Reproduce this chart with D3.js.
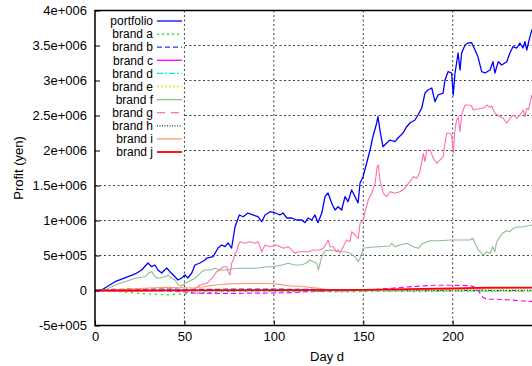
<!DOCTYPE html>
<html>
<head>
<meta charset="utf-8">
<script src="https://cdn.jsdelivr.net/npm/d3@7"></script>
<style>
  html, body { margin: 0; padding: 0; background: #fff; overflow: hidden; }
  svg { display: block; font-family: "Liberation Sans", Arial, sans-serif; }
</style>
</head>
<body>
<svg id="chart" width="532" height="366"></svg>
<script>
// Daily cumulative profit, [day, yen]
const portfolio = [[0,0],[3.7,7000],[11.2,126000],[18.5,197000],[22.4,236000],[26.1,293000],[29.6,393000],[31.7,340000],[33.5,364000],[35.2,293000],[37.3,250000],[40.1,321000],[41.9,269000],[44.7,197000],[46.4,150000],[48.5,179000],[50.3,221000],[52,179000],[54.1,250000],[55.9,364000],[58.7,393000],[61.5,436000],[62.5,464000],[66,483000],[68.8,607000],[70.8,650000],[72.7,626000],[74.4,679000],[76.4,607000],[78.3,911000],[80.7,1079000],[82.8,1054000],[85.5,1107000],[88.3,1079000],[91.1,1054000],[93.2,983000],[95.1,1079000],[97.9,1126000],[100.6,1111000],[103.4,1079000],[105.1,1107000],[107.2,1036000],[110,1036000],[112.8,1007000],[115.6,1007000],[117.4,969000],[119.1,1036000],[121.2,1007000],[123,1079000],[124.7,969000],[126.8,1107000],[128.6,1340000],[130.3,1393000],[132.3,1250000],[134.2,1150000],[135.9,1197000],[137.9,1150000],[139.8,1340000],[141.5,1269000],[143.5,1436000],[145.4,1340000],[147.1,1250000],[148.2,1536000],[149.9,1626000],[151.9,1821000],[153.8,2007000],[155.4,2197000],[157.5,2393000],[158.2,2483000],[159.3,2293000],[161,2054000],[163.1,2107000],[164.9,2150000],[167.7,2126000],[169.4,2179000],[172.2,2250000],[174.3,2340000],[176.1,2393000],[178.9,2436000],[180.6,2507000],[182.7,2607000],[184.5,2821000],[186.2,2864000],[188.3,2893000],[190.1,2697000],[191.8,2793000],[194.6,2821000],[195.7,3007000],[197.4,3126000],[199.4,3107000],[200.3,2793000],[201.3,3107000],[202.2,3250000],[203,3393000],[204.1,3150000],[205,3393000],[206.9,3507000],[208.6,3536000],[210.6,3540000],[212.5,3436000],[214.1,3340000],[216.2,3126000],[218.1,3107000],[220.9,3150000],[222.5,3269000],[223.6,3107000],[225.5,3269000],[227.4,3221000],[230.2,3269000],[232,3393000],[233.7,3483000],[235.8,3464000],[237.6,3536000],[239.3,3464000],[240.4,3554000],[241.4,3436000],[243.2,3626000],[244.3,3721000],[246,3650000]];

const brandA = [[0,0],[10,-10000],[20,-30000],[30,-50000],[40,-60000],[50,-50000],[60,-30000],[70,-20000],[80,-10000],[100,-10000],[120,-15000],[140,-20000],[160,-10000],[180,-15000],[200,-10000],[220,-10000],[246,-10000]];
const brandB = [[0,0],[10,15000],[20,20000],[40,20000],[60,15000],[80,20000],[100,20000],[120,15000],[140,10000],[160,5000],[180,5000],[200,5000],[220,0],[246,0]];
const brandC = [[0,0],[20,0],[40,-5000],[50,-20000],[55,-35000],[60,-40000],[80,-40000],[100,-35000],[110,-30000],[120,-15000],[140,-5000],[150,0],[160,20000],[170,40000],[180,60000],[190,75000],[200,75000],[210,70000],[213,40000],[215,-30000],[217,-100000],[219,-125000],[225,-125000],[235,-140000],[240,-150000],[246,-160000]];
const brandD = [[0,0],[30,-5000],[60,-5000],[100,-5000],[150,-5000],[200,-5000],[246,-5000]];
const brandE = [[0,0],[40,3000],[80,3000],[120,0],[160,3000],[200,3000],[246,0]];
const brandF = [[0,0],[5.6,7000],[11.2,79000],[16.8,126000],[22.4,174000],[28,197000],[29.8,246000],[31.7,269000],[33.5,197000],[35.4,174000],[39.1,197000],[41,221000],[42.9,174000],[44.7,150000],[46.6,79000],[48.5,64000],[50.3,103000],[52.2,126000],[54.1,150000],[55.9,174000],[57.8,221000],[59.7,269000],[61.5,293000],[64.3,293000],[67.1,317000],[69.9,293000],[72.7,293000],[75.5,303000],[79.2,317000],[84.8,317000],[90.4,317000],[96,340000],[99.7,340000],[104.4,364000],[108.1,389000],[111.8,364000],[115.6,364000],[118.4,397000],[120.2,436000],[122.1,411000],[124,389000],[124.9,293000],[126.8,483000],[128.6,569000],[132.3,579000],[136,554000],[139.8,554000],[142.6,531000],[145.4,483000],[147.2,411000],[148.2,460000],[150,603000],[153.8,617000],[159.3,626000],[164.9,636000],[165.9,674000],[167.7,626000],[170.5,650000],[174.3,674000],[178,626000],[180.8,603000],[182.7,664000],[187.3,711000],[192.9,711000],[198.5,721000],[204.1,721000],[209.7,721000],[211.2,746000],[212.5,674000],[214.3,579000],[216.2,531000],[217.5,507000],[219,554000],[220.9,531000],[222.4,626000],[223.6,554000],[224.6,697000],[226.4,769000],[228.3,826000],[230.2,854000],[232,840000],[233.9,889000],[235.8,903000],[239.5,911000],[244.3,936000],[246,936000]];
const brandG = [[0,0],[10,-10000],[20,-15000],[30,-10000],[40,0],[50,3000],[55,7000],[58.7,79000],[62.5,103000],[66.1,197000],[68,269000],[69.9,293000],[71.7,340000],[73.6,340000],[74.5,269000],[75.5,221000],[76.4,389000],[77.3,436000],[78.3,531000],[79.2,554000],[80.1,650000],[81.1,697000],[83.9,674000],[86.7,697000],[89.5,674000],[91.3,697000],[93.2,554000],[95.1,650000],[97.8,626000],[101.6,650000],[105.3,603000],[108.1,626000],[110,579000],[111.8,531000],[113.7,554000],[116.5,554000],[119.3,554000],[122.1,579000],[125.8,579000],[127.6,603000],[129.5,674000],[130.4,721000],[131.4,626000],[133.2,626000],[135.1,554000],[136,579000],[137,540000],[138.8,626000],[140.7,721000],[142.6,697000],[143.5,840000],[145.4,793000],[147.2,746000],[148.2,960000],[150,1007000],[151,1126000],[152.8,1293000],[154.7,1389000],[156.6,1531000],[157.8,1769000],[158.4,1793000],[159.3,1579000],[161.2,1389000],[163.1,1340000],[164.9,1411000],[167.7,1389000],[170.5,1411000],[173.3,1460000],[175.2,1531000],[176.1,1554000],[178,1626000],[179.9,1603000],[181.7,1697000],[183.6,1960000],[184.5,1840000],[185.5,2007000],[187.3,2007000],[189.2,1889000],[191.1,1817000],[192.9,1864000],[194.7,1911000],[195.7,2103000],[196.6,2246000],[198.5,2246000],[199.4,2221000],[200.3,1960000],[201.3,2293000],[202.2,2436000],[203.1,2483000],[204.1,2269000],[205,2507000],[206.9,2650000],[208.7,2650000],[210.6,2636000],[211.5,2579000],[213.4,2589000],[216.2,2603000],[218.1,2617000],[219,2650000],[220.9,2617000],[221.8,2636000],[223.6,2531000],[226.4,2483000],[228.3,2460000],[230.2,2389000],[232,2460000],[233.9,2507000],[235.8,2460000],[237.6,2507000],[239.5,2579000],[240.4,2483000],[241.4,2603000],[242.3,2579000],[243.2,2674000],[244.3,2793000],[246,2750000]];
const brandH = [[0,0],[50,5000],[100,5000],[150,0],[200,5000],[246,5000]];
const brandI = [[0,0],[10,5000],[20,20000],[30,35000],[40,45000],[50,40000],[55,35000],[60,50000],[65,70000],[70,85000],[75,95000],[85,100000],[95,100000],[100,95000],[105,80000],[110,60000],[115,60000],[120,45000],[125,30000],[130,15000],[140,5000],[160,5000],[180,10000],[200,15000],[220,30000],[246,35000]];
const brandJ = [[0,0],[50,2000],[100,5000],[150,10000],[175,20000],[200,30000],[220,40000],[246,40000]];

const seriesNames = ["portfolio","brand a","brand b","brand c","brand d","brand e","brand f","brand g","brand h","brand i","brand j"];
const seriesData = [portfolio, brandA, brandB, brandC, brandD, brandE, brandF, brandG, brandH, brandI, brandJ];

const yTicks = [-500000, 0, 500000, 1000000, 1500000, 2000000, 2500000, 3000000, 3500000, 4000000];
const yTickLabels = ["-5e+005","0","5e+005","1e+006","1.5e+006","2e+006","2.5e+006","3e+006","3.5e+006","4e+006"];
const xTicks = [0, 50, 100, 150, 200];

// line styles per series: colour, width, dash in the plot, dash in the key
const styles = [
  {c:"#0000ff", w:1.3, dash:null,        key:null},
  {c:"#00e000", w:1.2, dash:"2,4",       key:"2,3"},
  {c:"#3030ff", w:1.2, dash:"5,3",       key:"5,3"},
  {c:"#ff00ff", w:1.2, dash:"5,3",       key:null},
  {c:"#00e8e8", w:1.2, dash:"6,2,2,2",   key:"6,2,2,2"},
  {c:"#e8e800", w:1.2, dash:"2,2",       key:"2,2"},
  {c:"#8fbc8f", w:1.1, dash:null,        key:null},
  {c:"#ff6eb4", w:1.1, dash:null,        key:"8,6"},
  {c:"#333333", w:1.0, dash:"1,2",       key:"1,1.5"},
  {c:"#ff9a70", w:1.1, dash:null,        key:null},
  {c:"#ff0000", w:1.8, dash:null,        key:null}
];

const svg = d3.select("#chart");
const L = 95, R = 560, T = 10.5, B = 325.5;
const x = d3.scaleLinear().domain([0, 260]).range([L, R]);
const y = d3.scaleLinear().domain([-500000, 4000000]).range([B, T]);
const FONT = "13px";
const KEYFONT = "12px";

// horizontal grid
svg.append("g").selectAll("line")
  .data(yTicks.filter(v => v > -500000 && v < 4000000))
  .join("line")
  .attr("x1", L).attr("x2", R)
  .attr("y1", d => y(d)).attr("y2", d => y(d))
  .attr("stroke", "#000").attr("stroke-width", 1)
  .attr("stroke-dasharray", "2,2.5").attr("opacity", 0.75);

// opaque key area
svg.append("rect").attr("x", L + 1).attr("y", T + 1)
  .attr("width", 88).attr("height", 150).attr("fill", "#fff");

// vertical grid
svg.append("g").selectAll("line")
  .data(xTicks.filter(v => v > 0))
  .join("line")
  .attr("x1", d => x(d)).attr("x2", d => x(d))
  .attr("y1", T).attr("y2", B)
  .attr("stroke", "#000").attr("stroke-width", 1)
  .attr("stroke-dasharray", "2,2.5").attr("opacity", 0.75);

// data lines
svg.append("clipPath").attr("id", "plotclip")
  .append("rect").attr("x", L).attr("y", T).attr("width", R - L).attr("height", B - T);

const line = d3.line().x(d => x(d[0])).y(d => y(d[1]));
const lines = svg.append("g").attr("clip-path", "url(#plotclip)");
seriesData.forEach((data, i) => {
  const s = styles[i];
  lines.append("path")
    .attr("d", line(data))
    .attr("fill", "none")
    .attr("stroke", s.c)
    .attr("stroke-width", s.w)
    .attr("stroke-linejoin", "round")
    .attr("stroke-dasharray", s.dash);
});

// axes
const yAxis = d3.axisLeft(y).tickValues(yTicks)
  .tickFormat((d, i) => yTickLabels[i])
  .tickSizeInner(-5).tickSizeOuter(0).tickPadding(8);
const gy = svg.append("g").attr("transform", `translate(${L},0)`).call(yAxis);

const xAxis = d3.axisBottom(x).tickValues(xTicks)
  .tickFormat(d3.format("d"))
  .tickSizeInner(-5).tickSizeOuter(0).tickPadding(6);
const gx = svg.append("g").attr("transform", `translate(0,${B})`).call(xAxis);

[gx, gy].forEach(g => {
  g.select(".domain").remove();
  g.selectAll(".tick line").attr("stroke", "#000").attr("stroke-width", 1);
  g.selectAll(".tick text").attr("fill", "#000")
    .style("font-size", FONT).style("font-family", '"Liberation Sans", Arial, sans-serif');
});

// border
svg.append("rect").attr("x", L).attr("y", T)
  .attr("width", R - L).attr("height", B - T)
  .attr("fill", "none").attr("stroke", "#000").attr("stroke-width", 1.5);

// key
const key = svg.append("g");
seriesNames.forEach((name, i) => {
  const ky = 21 + i * 13.1;
  const s = styles[i];
  key.append("text").attr("x", 153).attr("y", ky)
    .attr("dy", "0.35em").attr("text-anchor", "end")
    .style("font-size", KEYFONT).text(name);
  key.append("line").attr("x1", 157).attr("x2", 182)
    .attr("y1", ky).attr("y2", ky)
    .attr("stroke", s.c).attr("stroke-width", Math.max(s.w, 1.3))
    .attr("stroke-dasharray", s.key);
});

// axis titles
svg.append("text").attr("x", 327).attr("y", 361)
  .attr("text-anchor", "middle").style("font-size", FONT).text("Day d");
svg.append("text")
  .attr("transform", "translate(23,168) rotate(-90)")
  .attr("text-anchor", "middle").style("font-size", FONT).text("Profit (yen)");
</script>
</body>
</html>
